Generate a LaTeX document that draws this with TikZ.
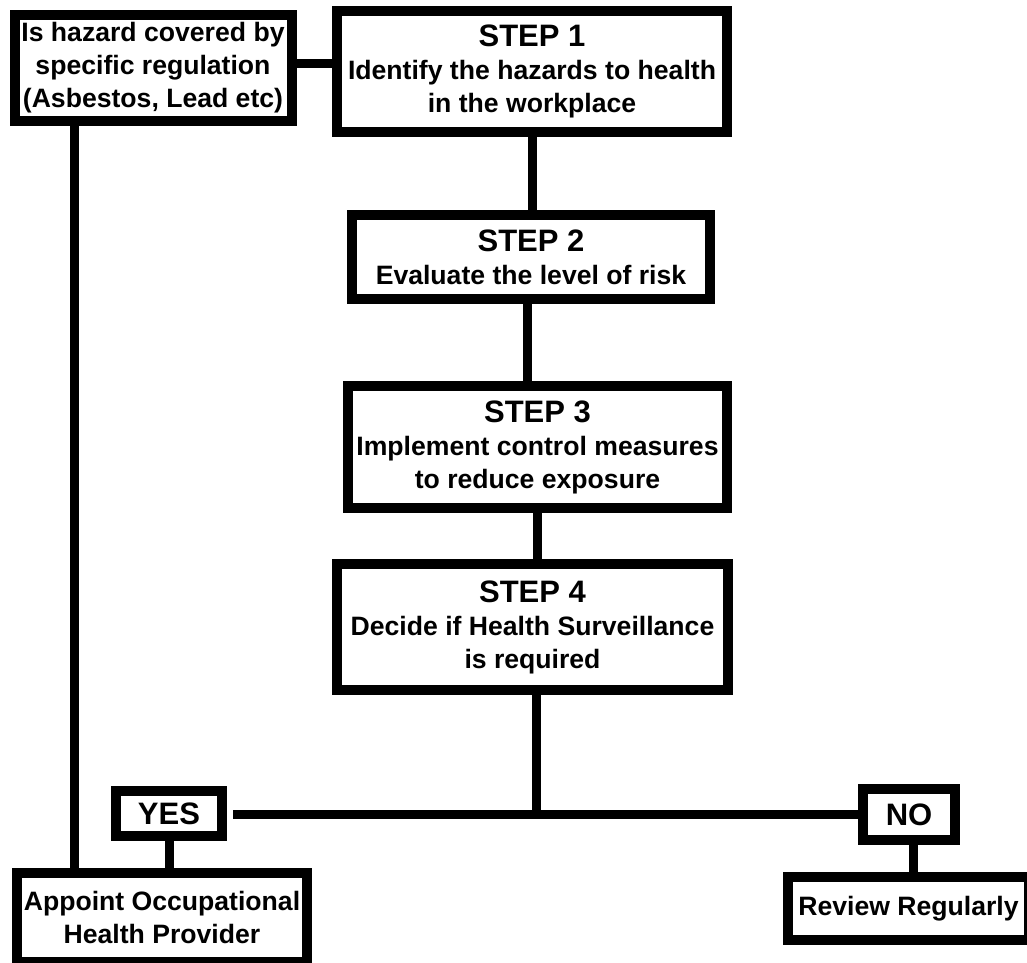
\documentclass[tikz,border=0pt]{standalone}
\usepackage{fontspec}
\setmainfont{Liberation Sans}
\usetikzlibrary{calc}
\newcommand{\hd}[1]{{\fontsize{31}{33}\selectfont #1}}
\tikzset{
  box/.style={draw=black, line width=10pt, fill=white, rectangle, inner sep=0pt,
    align=center, font=\bfseries\fontsize{26.6}{33}\selectfont},
  link/.style={draw=black, line width=9pt}
}
\begin{document}
\begin{tikzpicture}[x=1pt, y=-1pt]
\useasboundingbox[fill=white] (0,0) rectangle (1027,962);
\node[box, minimum width=277pt, minimum height=106pt] (haz) at (153,68)
  {Is hazard covered by\\specific regulation\\(Asbestos, Lead etc)};
\node[box, minimum width=390pt, minimum height=121pt] (s1) at (532,71.5)
  {\hd{STEP 1}\\Identify the hazards to health\\in the workplace};
\node[box, minimum width=358pt, minimum height=84pt] (s2) at (531,257)
  {\hd{STEP 2}\\Evaluate the level of risk};
\node[box, minimum width=379pt, minimum height=122pt] (s3) at (537.5,447)
  {\hd{STEP 3}\\Implement control measures\\to reduce exposure};
\node[box, minimum width=391pt, minimum height=126pt] (s4) at (532.5,627)
  {\hd{STEP 4}\\Decide if Health Surveillance\\is required};
\node[box, minimum width=106pt, minimum height=45pt] (yes) at (169,813.5) {\hd{YES}};
\node[box, minimum width=92pt, minimum height=51pt] (no) at (909,814.5) {\hd{NO}};
\node[box, minimum width=290pt, minimum height=89pt] (app) at (162,917.5)
  {Appoint Occupational\\Health Provider};
\node[box, minimum width=241pt, minimum height=63pt] (rev) at (908.5,908.5)
  {Review Regularly};
\coordinate (split) at (536,814);
\coordinate (yesgap) at (233,814);
\draw[link] (haz.east |- 0,63) -- (s1.west |- 0,63);
\draw[link] (s1.south) -- (s1.south |- s2.north);
\draw[link] (s2.south -| 527,0) -- (s3.north -| 527,0);
\draw[link] (s3.south) -- (s3.south |- s4.north);
\draw[link] (s4.south -| split) -- (split);
\draw[link] (yesgap) -- (no.west |- yesgap);
\draw[link] (yes.south) -- (yes.south |- app.north);
\draw[link] (no.south -| 913,0) -- (rev.north -| 913,0);
\draw[link] (haz.south -| 74,0) -- (app.north -| 74,0);
\end{tikzpicture}
\end{document}
